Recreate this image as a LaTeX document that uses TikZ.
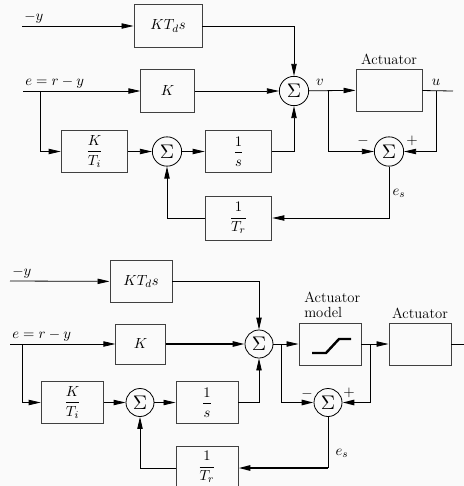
\documentclass[tikz,border=0pt]{standalone}
\usepackage{amsmath}
\usepackage{tikz}
\usetikzlibrary{
  arrows.meta,
  positioning,
  calc
}

\tikzset{
  block/.style={draw=black!75, line width=0.7pt, inner sep=0pt,
    minimum width=50pt, minimum height=32pt},
  sumnode/.style={draw, circle, line width=0.6pt, inner sep=0pt,
    minimum size=22pt},
  sig/.style={line width=0.6pt, -{Triangle[length=9pt,width=4pt]}},
  wire/.style={line width=0.6pt},
  heavy/.style={line width=1.4pt},
  lbl/.style={inner sep=1.5pt}
}
\newcommand{\sumsym}{\scalebox{1.35}{$\Sigma$}}

\begin{document}
\begin{tikzpicture}[
        x=0.75pt, y=-0.75pt,
        every node/.style={font=\fontsize{11}{12}\selectfont}
    ]
        \useasboundingbox[fill=black!2] (0,0) rectangle (464,486);

        % ---- upper diagram: PI(D) with tracking of the actuator output
        \node[block, minimum width=51pt] (kd1) at (168,26) {$KT_d s$};
        \node[block, minimum width=40pt] (k1) at (167.5,91) {$K$};
        \node[block] (ki1) at (94.5,151.5) {$\dfrac{K}{T_i}$};
        \node[sumnode] (si1) at (167,151.5) {\sumsym};
        \node[block] (int1) at (238.5,151.5) {$\dfrac{1}{s}$};
        \node[block, minimum height=33pt] (tr1) at (238.5,218) {$\dfrac{1}{T_r}$};
        \node[sumnode] (sm1) at (294,91) {\sumsym};
        \node[block, minimum width=49.5pt, minimum height=31.5pt] (act1) at (389,90) {};
        \node[sumnode] (ss1) at (389,151.5) {\sumsym};
        \node[lbl] (actlbl1) [above=1pt of act1] {Actuator};

        \coordinate (in1) at (22,26);
        \coordinate (e1) at (23,91);
        \coordinate (eb1) at (40,91);
        \coordinate (v1) at (328,91);
        \coordinate (u1) at (436,91);
        \coordinate (out1) at (453,91);

        \draw[sig] (in1) -- (kd1);
        \draw[sig] (e1) -- (k1);
        \draw[sig] (eb1) |- (ki1);
        \draw[sig] (kd1) -| (sm1);
        \draw[sig] (k1) -- (sm1);
        \draw[sig] (int1) -| (sm1);
        \draw[sig] (ki1) -- (si1);
        \draw[sig] (si1) -- (int1);
        \draw[sig] (sm1) -- (act1);
        \draw[wire] (act1) -- (out1);
        \draw[sig] (v1) |- (ss1);
        \draw[sig] (u1) |- (ss1);
        \draw[sig] (ss1) |- (tr1);
        \draw[sig] (tr1) -| (si1);

        \node[lbl, above right] (ylbl1) at (in1) {$-y$};
        \node[lbl, above right] (elbl1) at (e1) {$e=r-y$};
        \node[lbl] (vlbl1) at (320,82) {$v$};
        \node[lbl] (ulbl1) at (436,82) {$u$};
        \node[lbl] (mlbl1) at ($(ss1)+(-26,-11)$) {$-$};
        \node[lbl] (plbl1) at ($(ss1)+(23,-11)$) {$+$};
        \node[lbl] (eslbl1) at (399,193) {$e_s$};

        % ---- lower diagram: same loop fed by an actuator model
        \node[block, minimum width=46.5pt, minimum height=31pt] (kd2) at (141,281.5) {$KT_d s$};
        \node[block, minimum width=37pt, minimum height=30pt] (k2) at (140.5,344) {$K$};
        \node[block, minimum width=47pt, minimum height=31pt] (ki2) at (72.5,402.5) {$\dfrac{K}{T_i}$};
        \node[sumnode, minimum size=21pt] (si2) at (140,402.5) {\sumsym};
        \node[block, minimum width=46.5pt, minimum height=31pt] (int2) at (207,402.5) {$\dfrac{1}{s}$};
        \node[block, minimum width=46.5pt, minimum height=31pt] (tr2) at (207,467) {$\dfrac{1}{T_r}$};
        \node[sumnode, minimum size=21pt] (sm2) at (259,344) {\sumsym};
        \node[block, minimum width=46.5pt, minimum height=31.5pt] (mod2) at (330,344) {};
        \node[block, minimum width=46.5pt, minimum height=31.5pt] (act2) at (420,344) {};
        \node[sumnode, minimum size=21pt] (ss2) at (328,402.5) {\sumsym};
        \node[lbl, align=left, anchor=south west] (modlbl2) at (302,320) {Actuator\\[-1pt]model};
        \node[lbl] (actlbl2) [above=1pt of act2] {Actuator};

        % saturation characteristic
        \draw[line width=1.8pt] (312,353) -- (326,353) -- (339,339) -- (351,339);

        \coordinate (in2) at (10,281);
        \coordinate (e2) at (10,344);
        \coordinate (eb2) at (22,344);
        \coordinate (v2) at (281,344);
        \coordinate (vd2) at (281,402.5);
        \coordinate (u2) at (370,344);
        \coordinate (ud2) at (370,402.5);
        \coordinate (es2) at (328,468);
        \coordinate (trr2) at (tr2.east |- es2);
        \coordinate (trl2) at (tr2.west |- es2);
        \coordinate (out2) at (464,344);

        \draw[sig] (in2) -- (kd2);
        \draw[sig] (e2) -- (k2);
        \draw[sig] (eb2) |- (ki2);
        \draw[sig] (kd2) -| (sm2);
        \draw[sig, heavy] (k2) -- (sm2);
        \draw[sig] (int2) -| (sm2);
        \draw[sig] (ki2) -- (si2);
        \draw[sig] (si2) -- (int2);
        \draw[sig] (sm2) -- (mod2);
        \draw[sig] (mod2) -- (act2);
        \draw[wire] (act2) -- (out2);
        \draw[wire] (v2) -- (vd2);
        \draw[sig, heavy] (vd2) -- (ss2);
        \draw[wire] (u2) -- (ud2);
        \draw[sig, heavy] (ud2) -- (ss2);
        \draw[wire] (ss2) -- (es2);
        \draw[sig, heavy] (es2) -- (trr2);
        \draw[sig] (trl2) -| (si2);

        \node[lbl, above right] (ylbl2) at (in2) {$-y$};
        \node[lbl, above right] (elbl2) at (e2) {$e=r-y$};
        \node[lbl] (mlbl2) at ($(ss2)+(-21,-9)$) {$-$};
        \node[lbl] (plbl2) at ($(ss2)+(21,-10)$) {$+$};
        \node[lbl] (eslbl2) at (342,453) {$e_s$};
    \end{tikzpicture}
\end{document}
